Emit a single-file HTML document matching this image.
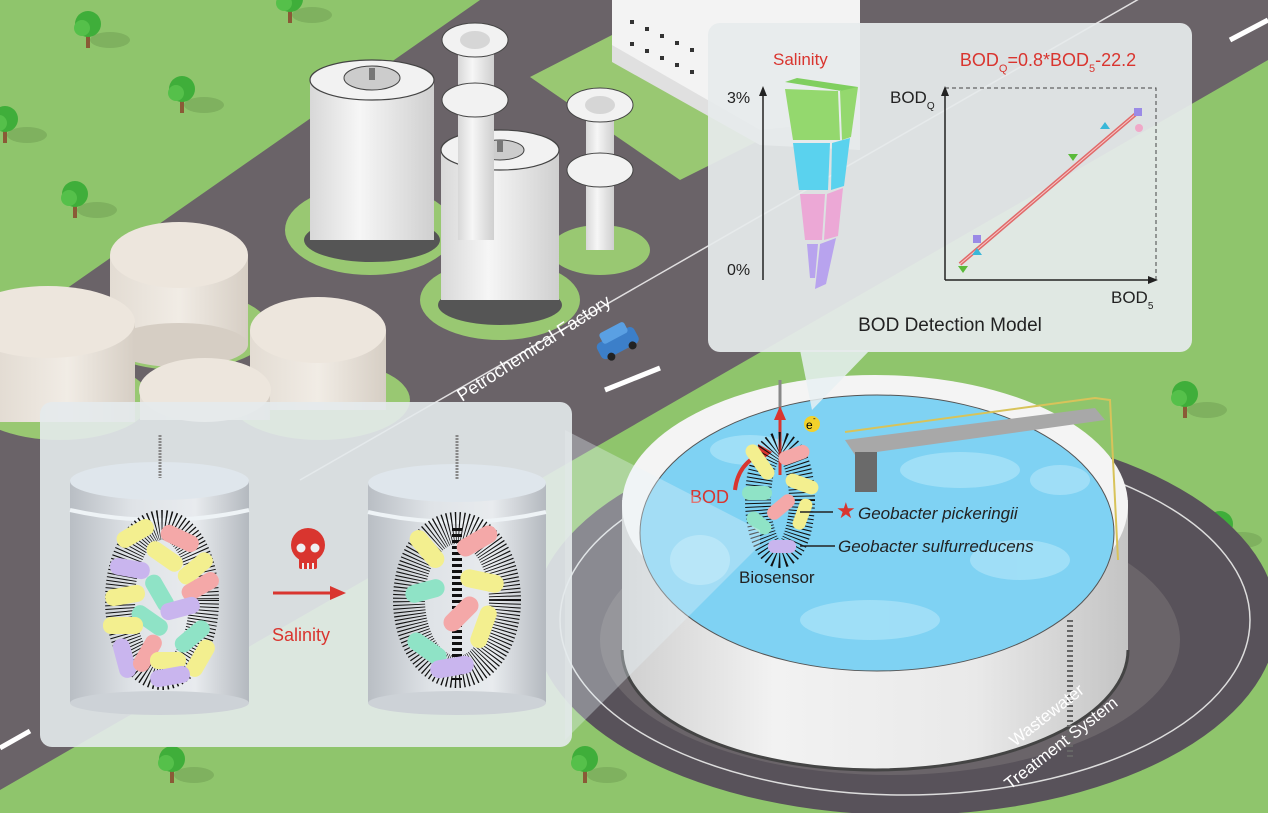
<!DOCTYPE html>
<html><head><meta charset="utf-8"><style>
html,body{margin:0;padding:0;width:1268px;height:813px;overflow:hidden;background:#8fc56c}
svg{display:block}
text{font-family:"Liberation Sans",Arial,sans-serif}
</style></head><body>
<svg width="1268" height="813" viewBox="0 0 1268 813" xmlns="http://www.w3.org/2000/svg">
<defs>
<linearGradient id="cyl" x1="0" x2="1"><stop offset="0" stop-color="#b9bec4"/><stop offset=".35" stop-color="#dfe3e7"/><stop offset=".7" stop-color="#e8ebee"/><stop offset="1" stop-color="#b4b9bf"/></linearGradient>
<linearGradient id="wt" x1="0" x2="1"><stop offset="0" stop-color="#d8d8d8"/><stop offset=".4" stop-color="#f6f6f6"/><stop offset="1" stop-color="#cfcfcf"/></linearGradient>
<linearGradient id="bg2" x1="0" x2="1"><stop offset="0" stop-color="#e3dcd3"/><stop offset=".5" stop-color="#f1ece5"/><stop offset="1" stop-color="#d6cec4"/></linearGradient>
<linearGradient id="wall" x1="0" x2="1"><stop offset="0" stop-color="#cfcfcf"/><stop offset=".3" stop-color="#f2f2f2"/><stop offset=".7" stop-color="#e9e9e9"/><stop offset="1" stop-color="#c4c4c4"/></linearGradient>
<g id="tree"><ellipse cx="22" cy="10" rx="20" ry="8" fill="#78a85a" opacity=".7"/><rect x="-2" y="2" width="4" height="16" fill="#8a5a36"/><circle cx="0" cy="-6" r="13" fill="#3fae3a"/><circle cx="-6" cy="-2" r="8" fill="#55c04a"/></g>
</defs>

<!-- dark roads / industrial area -->
<polygon points="0,335 480,0 1268,0 1268,60 0,790" fill="#6a6368"/>
<!-- green lawn near building -->
<polygon points="530,77 612,35 760,140 680,180" fill="#99c872"/>
<!-- building -->
<polygon points="612,0 860,0 860,150 760,140 612,60" fill="#f3f3f3"/>
<polygon points="612,45 760,130 860,120 860,150 760,145 612,62" fill="#e0e0e0"/>
<g fill="#333"><rect x="630" y="20" width="4" height="4"/><rect x="645" y="27" width="4" height="4"/><rect x="660" y="34" width="4" height="4"/><rect x="675" y="41" width="4" height="4"/><rect x="690" y="48" width="4" height="4"/><rect x="630" y="42" width="4" height="4"/><rect x="645" y="49" width="4" height="4"/><rect x="660" y="56" width="4" height="4"/><rect x="675" y="63" width="4" height="4"/><rect x="690" y="70" width="4" height="4"/></g>
<!-- main road white edge -->
<line x1="300" y1="480" x2="1268" y2="-75" stroke="#fff" stroke-width="1.5" opacity=".8"/>
<!-- dashes -->
<g stroke="#fff" stroke-width="5"><line x1="0" y1="748" x2="30" y2="731"/><line x1="605" y1="390" x2="660" y2="368"/><line x1="1230" y1="40" x2="1268" y2="20"/></g>
<!-- green pads -->
<ellipse cx="370" cy="230" rx="85" ry="45" fill="#99c872"/>
<ellipse cx="500" cy="300" rx="80" ry="40" fill="#99c872"/>
<ellipse cx="600" cy="250" rx="50" ry="25" fill="#99c872"/>
<ellipse cx="60" cy="400" rx="90" ry="40" fill="#99c872"/>
<ellipse cx="180" cy="330" rx="90" ry="40" fill="#99c872"/>
<ellipse cx="320" cy="400" rx="90" ry="40" fill="#99c872"/>
<!-- tall white tanks -->
<g>
<ellipse cx="372" cy="240" rx="68" ry="22" fill="#555"/>
<rect x="310" y="80" width="124" height="160" fill="url(#wt)"/>
<ellipse cx="372" cy="80" rx="62" ry="20" fill="#f2f2f2" stroke="#444" stroke-width="1.2"/>
<ellipse cx="372" cy="78" rx="28" ry="12" fill="#ccc" stroke="#444"/>
<rect x="369" y="68" width="6" height="12" fill="#777"/>
<ellipse cx="500" cy="305" rx="62" ry="20" fill="#555"/>
<rect x="441" y="150" width="118" height="150" fill="url(#wt)"/>
<ellipse cx="500" cy="150" rx="59" ry="20" fill="#f2f2f2" stroke="#444" stroke-width="1.2"/>
<ellipse cx="500" cy="150" rx="24" ry="10" fill="#ccc" stroke="#444"/>
<rect x="497" y="140" width="6" height="12" fill="#777"/>
<rect x="458" y="40" width="36" height="200" fill="url(#wt)"/>
<ellipse cx="475" cy="40" rx="33" ry="17" fill="#f2f2f2" stroke="#444"/>
<ellipse cx="475" cy="40" rx="15" ry="9" fill="#d6d6d6"/>
<ellipse cx="475" cy="100" rx="33" ry="17" fill="#f2f2f2" stroke="#444"/>
<rect x="586" y="105" width="28" height="145" fill="url(#wt)"/>
<ellipse cx="600" cy="105" rx="33" ry="17" fill="#f2f2f2" stroke="#444"/>
<ellipse cx="600" cy="105" rx="15" ry="9" fill="#d6d6d6"/>
<ellipse cx="600" cy="170" rx="33" ry="17" fill="#f2f2f2" stroke="#444"/>
</g>
<!-- beige tanks -->
<g>
<rect x="110" y="255" width="138" height="90" fill="url(#bg2)"/><ellipse cx="179" cy="345" rx="69" ry="22" fill="#d6cec4"/><ellipse cx="179" cy="255" rx="69" ry="33" fill="#ede6dd"/>
<rect x="0" y="322" width="135" height="100" fill="url(#bg2)"/><ellipse cx="48" cy="322" rx="87" ry="36" fill="#ede6dd"/>
<rect x="250" y="330" width="136" height="80" fill="url(#bg2)"/><ellipse cx="318" cy="330" rx="68" ry="33" fill="#ede6dd"/>
<rect x="140" y="390" width="130" height="30" fill="url(#bg2)"/><ellipse cx="205" cy="390" rx="66" ry="32" fill="#ede6dd"/>
</g>
<!-- trees -->
<use href="#tree" x="182" y="95"/><use href="#tree" x="75" y="200"/><use href="#tree" x="5" y="125"/><use href="#tree" x="290" y="5"/><use href="#tree" x="88" y="30"/>
<use href="#tree" x="1185" y="400"/><use href="#tree" x="1220" y="530"/><use href="#tree" x="172" y="765"/><use href="#tree" x="585" y="765"/>
<!-- car -->
<g transform="translate(595,345) rotate(-28)"><rect x="0" y="0" width="42" height="18" rx="5" fill="#3c7fc9"/><rect x="8" y="-8" width="28" height="12" rx="3" fill="#5aa0e3"/><circle cx="9" cy="18" r="4" fill="#222"/><circle cx="33" cy="18" r="4" fill="#222"/></g>
<text transform="translate(462,402) rotate(-33)" font-size="18" fill="#fff">Petrochemical Factory</text>

<!-- clarifier platform -->
<ellipse cx="905" cy="620" rx="372" ry="195" fill="#58525a"/>
<ellipse cx="905" cy="620" rx="345" ry="175" fill="none" stroke="#ddd" stroke-width="1.5"/>
<ellipse cx="890" cy="640" rx="290" ry="135" fill="#6a6469"/>
<!-- wall -->
<path d="M622,500 L622,650 A253,120 0 0 0 1128,650 L1128,500 Z" fill="url(#wall)"/>
<path d="M622,650 A253,120 0 0 0 1128,650" fill="none" stroke="#444" stroke-width="3"/>
<ellipse cx="875" cy="505" rx="253" ry="130" fill="#f4f4f4"/>
<ellipse cx="877" cy="533" rx="237" ry="138" fill="#7fd2f3"/>
<g fill="#a8e2f8" opacity=".8"><ellipse cx="750" cy="450" rx="40" ry="15"/><ellipse cx="960" cy="470" rx="60" ry="18"/><ellipse cx="1020" cy="560" rx="50" ry="20"/><ellipse cx="870" cy="620" rx="70" ry="20"/><ellipse cx="700" cy="560" rx="30" ry="25"/><ellipse cx="1060" cy="480" rx="30" ry="15"/></g>
<ellipse cx="877" cy="533" rx="237" ry="138" fill="none" stroke="#555" stroke-width="1"/>
<!-- bridge -->
<polygon points="845,440 1095,408 1105,420 855,455" fill="#a8a8a8"/>
<polyline points="845,432 1095,398 1110,400 1118,560" fill="none" stroke="#d8c35a" stroke-width="2"/>
<rect x="855" y="452" width="22" height="40" fill="#6a6a6a"/>
<line x1="1070" y1="620" x2="1070" y2="760" stroke="#666" stroke-width="6" stroke-dasharray="2 3"/>
<text transform="translate(1015,747) rotate(-38)" font-size="17" fill="#fff">Wastewater</text>
<text transform="translate(1010,790) rotate(-38)" font-size="17" fill="#fff">Treatment System</text>

<!-- biosensor in water -->
<line x1="780" y1="380" x2="780" y2="440" stroke="#888" stroke-width="3"/>
<line x1="780" y1="475" x2="780" y2="418" stroke="#d9352f" stroke-width="3"/><polygon points="774,420 786,420 780,406" fill="#d9352f"/>
<circle cx="812" cy="424" r="8" fill="#f2d12b"/><text x="806" y="429" font-size="12">e</text><text x="813" y="421" font-size="8">-</text>
<path d="M735,490 Q738,462 765,452" fill="none" stroke="#d9352f" stroke-width="4"/><polygon points="758,444 772,452 760,462" fill="#d9352f"/>
<text x="690" y="503" font-size="18" fill="#d9352f">BOD</text>
<ellipse cx="780" cy="500" rx="22" ry="55" fill="none" stroke="#111" stroke-width="26" stroke-dasharray="1 2.5"/>
<g>
<rect x="740" y="455" width="40" height="14" rx="7" fill="#f3ef8f" transform="rotate(55 760 462)"/>
<rect x="778" y="448" width="32" height="14" rx="7" fill="#f4a8a8" transform="rotate(-20 794 455)"/>
<rect x="785" y="477" width="34" height="14" rx="7" fill="#f3ef8f" transform="rotate(20 802 484)"/>
<rect x="742" y="486" width="30" height="14" rx="7" fill="#8fe3c6"/>
<rect x="765" y="500" width="32" height="14" rx="7" fill="#f4a8a8" transform="rotate(-40 781 507)"/>
<rect x="786" y="508" width="32" height="13" rx="6" fill="#f3ef8f" transform="rotate(-70 802 514)"/>
<rect x="745" y="516" width="28" height="14" rx="7" fill="#8fe3c6" transform="rotate(40 759 523)"/>
<rect x="768" y="540" width="28" height="13" rx="6" fill="#c9b5ee"/>
</g>
<line x1="800" y1="512" x2="833" y2="512" stroke="#222" stroke-width="1.5"/>
<line x1="800" y1="546" x2="835" y2="546" stroke="#222" stroke-width="1.5"/>
<text x="836" y="518" font-size="22" fill="#d9352f">★</text>
<text x="858" y="519" font-size="17" font-style="italic" fill="#222">Geobacter pickeringii</text>
<text x="838" y="552" font-size="17" font-style="italic" fill="#222">Geobacter sulfurreducens</text>
<text x="739" y="583" font-size="17" fill="#222">Biosensor</text>

<!-- beam from left panel -->
<polygon points="565,430 760,530 760,545 565,740" fill="#e8f4f8" opacity=".35"/>

<!-- left panel -->
<rect x="40" y="402" width="532" height="345" rx="12" fill="#e4eaec" opacity=".9"/>
<g>
<rect x="70" y="481" width="179" height="222" fill="url(#cyl)"/>
<ellipse cx="159.5" cy="703" rx="89.5" ry="12" fill="#cdd2d7"/>
<ellipse cx="159.5" cy="481" rx="89.5" ry="19" fill="#dfe6ec"/>
<path d="M70,510 Q160,530 249,510" fill="none" stroke="#eef3f6" stroke-width="4"/>
<line x1="160" y1="435" x2="160" y2="478" stroke="#888" stroke-width="3" stroke-dasharray="2 1"/>
<rect x="368" y="483" width="178" height="220" fill="url(#cyl)"/>
<ellipse cx="457" cy="703" rx="89" ry="12" fill="#cdd2d7"/>
<ellipse cx="457" cy="483" rx="89" ry="19" fill="#dfe6ec"/>
<path d="M368,512 Q457,532 546,512" fill="none" stroke="#eef3f6" stroke-width="4"/>
<line x1="457" y1="435" x2="457" y2="480" stroke="#888" stroke-width="3" stroke-dasharray="2 1"/>
</g>
<ellipse cx="162" cy="600" rx="42" ry="75" fill="none" stroke="#111" stroke-width="30" stroke-dasharray="1 2.3"/>
<g>
<rect x="115" y="525" width="40" height="17" rx="8" fill="#f3ef8f" transform="rotate(-30 135 533)"/>
<rect x="160" y="530" width="40" height="17" rx="8" fill="#f4a8a8" transform="rotate(25 180 538)"/>
<rect x="145" y="548" width="40" height="17" rx="8" fill="#f3ef8f" transform="rotate(35 165 556)"/>
<rect x="110" y="560" width="40" height="17" rx="8" fill="#c9b5ee" transform="rotate(10 130 568)"/>
<rect x="175" y="560" width="40" height="17" rx="8" fill="#f3ef8f" transform="rotate(-40 195 568)"/>
<rect x="105" y="587" width="40" height="17" rx="8" fill="#f3ef8f" transform="rotate(-10 125 595)"/>
<rect x="180" y="578" width="40" height="17" rx="8" fill="#f4a8a8" transform="rotate(-30 200 586)"/>
<rect x="140" y="585" width="40" height="17" rx="8" fill="#8fe3c6" transform="rotate(60 160 593)"/>
<rect x="160" y="600" width="40" height="17" rx="8" fill="#c9b5ee" transform="rotate(-15 180 608)"/>
<rect x="130" y="612" width="40" height="17" rx="8" fill="#8fe3c6" transform="rotate(35 150 620)"/>
<rect x="103" y="617" width="40" height="17" rx="8" fill="#f3ef8f"/>
<rect x="172" y="628" width="40" height="17" rx="8" fill="#8fe3c6" transform="rotate(-40 192 636)"/>
<rect x="105" y="650" width="40" height="17" rx="8" fill="#c9b5ee" transform="rotate(75 125 658)"/>
<rect x="127" y="645" width="40" height="17" rx="8" fill="#f4a8a8" transform="rotate(-60 147 653)"/>
<rect x="150" y="652" width="36" height="17" rx="8" fill="#f3ef8f"/>
<rect x="180" y="650" width="40" height="17" rx="8" fill="#f3ef8f" transform="rotate(-60 200 658)"/>
<rect x="150" y="668" width="40" height="17" rx="8" fill="#c9b5ee" transform="rotate(-10 170 676)"/>
</g>
<ellipse cx="457" cy="600" rx="48" ry="72" fill="none" stroke="#111" stroke-width="32" stroke-dasharray="1 2.3"/>
<line x1="457" y1="528" x2="457" y2="680" stroke="#111" stroke-width="10" stroke-dasharray="3 3"/>
<g>
<rect x="405" y="540" width="44" height="18" rx="9" fill="#f3ef8f" transform="rotate(50 427 549)"/>
<rect x="455" y="532" width="44" height="18" rx="9" fill="#f4a8a8" transform="rotate(-30 477 541)"/>
<rect x="460" y="572" width="44" height="18" rx="9" fill="#f3ef8f" transform="rotate(12 482 581)"/>
<rect x="405" y="582" width="40" height="18" rx="9" fill="#8fe3c6" transform="rotate(-15 425 591)"/>
<rect x="440" y="605" width="42" height="18" rx="9" fill="#f4a8a8" transform="rotate(-45 461 614)"/>
<rect x="462" y="618" width="44" height="17" rx="8" fill="#f3ef8f" transform="rotate(-70 484 627)"/>
<rect x="405" y="640" width="44" height="18" rx="9" fill="#8fe3c6" transform="rotate(35 427 649)"/>
<rect x="430" y="658" width="44" height="18" rx="9" fill="#c9b5ee" transform="rotate(-10 452 667)"/>
</g>
<!-- skull -->
<g fill="#d9352f"><ellipse cx="308" cy="545" rx="17" ry="17"/><rect x="299" y="555" width="18" height="14" rx="2"/></g>
<g fill="#eef0f2"><circle cx="301" cy="548" r="4.5"/><circle cx="315" cy="548" r="4.5"/><rect x="302" y="563" width="2" height="6"/><rect x="307" y="563" width="2" height="6"/><rect x="312" y="563" width="2" height="6"/></g>
<line x1="273" y1="593" x2="333" y2="593" stroke="#d9352f" stroke-width="3"/><polygon points="330,586 346,593 330,600" fill="#d9352f"/>
<text x="272" y="641" font-size="18" fill="#d9352f">Salinity</text>

<!-- top-right panel tail -->
<polygon points="800,350 870,350 812,410" fill="#e8f0f2" opacity=".85"/>
<rect x="708" y="23" width="484" height="329" rx="12" fill="#e6ebec" opacity=".93"/>
<text x="773" y="65" font-size="17" fill="#d9352f">Salinity</text>
<text x="727" y="103" font-size="16" fill="#222">3%</text>
<text x="727" y="275" font-size="16" fill="#222">0%</text>
<line x1="763" y1="280" x2="763" y2="95" stroke="#222" stroke-width="1.5"/><polygon points="759,96 767,96 763,86" fill="#222"/>
<polygon points="785,82 797,78 858,87 848,92" fill="#7fcf5e"/>
<polygon points="785,89 838,91 840,140 793,140" fill="#94d86e"/><polygon points="840,91 858,87 851,137 842,140" fill="#94d86e"/>
<polygon points="793,143 830,143 828,190 799,190" fill="#5ad2ee"/><polygon points="832,143 850,138 844,186 831,190" fill="#5ad2ee"/>
<polygon points="800,194 825,194 822,240 805,240" fill="#eca8d6"/><polygon points="827,194 843,188 838,236 824,240" fill="#eca8d6"/>
<polygon points="807,244 818,244 815,278 810,278" fill="#b8a3ee"/><polygon points="820,244 836,238 826,284 815,289" fill="#b8a3ee"/>
<text x="1048" y="66" font-size="18" fill="#d9352f" text-anchor="middle">BOD<tspan font-size="11" dy="6">Q</tspan><tspan dy="-6">=0.8*BOD</tspan><tspan font-size="11" dy="6">5</tspan><tspan dy="-6">-22.2</tspan></text>
<text x="890" y="103" font-size="17" fill="#222">BOD<tspan font-size="10" dy="6">Q</tspan></text>
<polyline points="945,88 1156,88 1156,280" fill="none" stroke="#444" stroke-width="1" stroke-dasharray="4 3"/>
<line x1="945" y1="280" x2="945" y2="95" stroke="#222" stroke-width="1.5"/><polygon points="941,96 949,96 945,86" fill="#222"/>
<line x1="945" y1="280" x2="1150" y2="280" stroke="#222" stroke-width="1.5"/><polygon points="1148,276 1158,280 1148,284" fill="#222"/>
<line x1="960" y1="264" x2="1137" y2="113" stroke="#e06a6a" stroke-width="4"/>
<line x1="960" y1="264" x2="1137" y2="113" stroke="#f7c9c9" stroke-width="1"/>
<rect x="973" y="235" width="8" height="8" fill="#9a8ae6"/><polygon points="977,248 972,255 982,255" fill="#39b7d8"/><polygon points="958,266 968,266 963,273" fill="#5aba3a"/>
<polygon points="1068,154 1078,154 1073,161" fill="#5aba3a"/><polygon points="1105,122 1100,129 1110,129" fill="#39b7d8"/>
<rect x="1134" y="108" width="8" height="8" fill="#9a8ae6"/><circle cx="1139" cy="128" r="4" fill="#f0a8c8"/>
<text x="1111" y="303" font-size="17" fill="#222">BOD<tspan font-size="10" dy="6">5</tspan></text>
<text x="950" y="331" font-size="19" fill="#222" text-anchor="middle">BOD Detection Model</text>
</svg>
</body></html>
